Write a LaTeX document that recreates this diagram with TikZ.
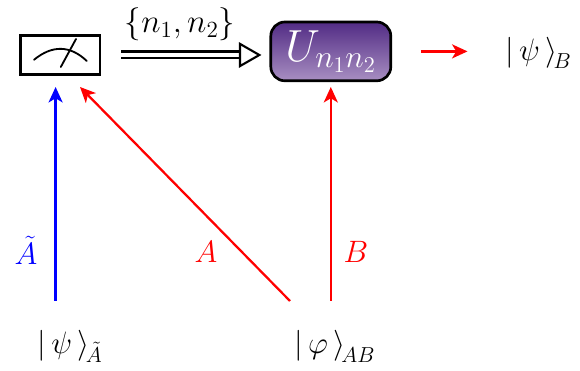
\documentclass[tikz,border=0pt]{standalone}
\usepackage{fix-cm}
\usetikzlibrary{arrows.meta}
\definecolor{ucoltop}{rgb}{0.32,0.17,0.52}
\definecolor{ucolbot}{rgb}{0.66,0.56,0.76}
\tikzset{
  meter box/.style={draw=black, line width=1.9pt, minimum width=1.98cm, minimum height=0.98cm, inner sep=0},
  gate box/.style={draw=black, line width=1.9pt, rounded corners=10pt, minimum width=3cm, minimum height=1.47cm,
                   inner sep=0, top color=ucoltop, bottom color=ucolbot, text=white},
  ket label/.style={font=\fontsize{22}{26}\selectfont, inner sep=0},
  wire label/.style={font=\fontsize{22}{26}\selectfont, inner sep=0},
  wire arrow/.style={-{Stealth[length=11pt,width=10pt,inset=3pt]}, line width=1.6pt},
  classical arrow/.style={-{Triangle[open,length=16pt,width=18pt,fill=white,line width=1.5pt]},
                          double, double distance=3.4pt, line width=1.5pt},
}

\begin{document}
\begin{tikzpicture}
    \useasboundingbox (0,0) rectangle (14.5,9.275);

    % === Top row: meter, classical arrow, gate, output ===
    \node[meter box] (meter) at (1.51, 7.9) {};
    \node[gate box, font=\fontsize{32}{36}\selectfont] (gate) at (8.27, 7.99) {$U_{n_1n_2}$};
    \node[ket label] (psiB) at (13.46, 7.95) {$\left|\,\psi\,\right\rangle_{\!B}$};
    \node[wire label, font=\fontsize{23.5}{26}\selectfont] (nset) at (4.5, 8.67) {$\{n_1,n_2\}$};

    % dial and needle
    \draw[line width=1.3pt, line cap=round] (0.85,7.78) .. controls (1.3,8.15) and (1.75,8.15) .. (2.17,7.75);
    \draw[line width=1.3pt, line cap=round] (1.52,7.6) -- (1.9,8.3);

    \draw[classical arrow, shorten >=0.2cm] ([xshift=0.5cm]meter.east) -- (gate.west |- meter.east);

    % === Bottom row: input states ===
    \node[ket label] (psiA) at (1.75, 0.62) {$\left|\,\psi\,\right\rangle_{\!\tilde A}$};
    \node[ket label] (phiAB) at (8.37, 0.62) {$\left|\,\varphi\,\right\rangle_{\!AB}$};

    % arrow ends
    \coordinate (tipT) at (1.39, 7.1);
    \coordinate (tailT) at (1.39, 1.75);
    \coordinate (tipA) at (2.0, 7.1);
    \coordinate (tailA) at (7.25, 1.75);
    \coordinate (tipB) at (8.27, 7.1);
    \coordinate (tailB) at (8.27, 1.75);

    \draw[wire arrow, blue] (tailT) -- (tipT);
    \draw[wire arrow, red] (tailA) -- (tipA);
    \draw[wire arrow, red] (tailB) -- (tipB);
    \draw[wire arrow, red, shorten <=0.72cm, shorten >=0.94cm] (gate.east) -- (gate.east -| psiB.west);

    % === Wire labels ===
    \node[wire label, text=blue] (labT) at (0.65, 3.02) {$\tilde A$};
    \node[wire label, text=red] (labA) at (5.15, 2.97) {$A$};
    \node[wire label, text=red] (labB) at (8.9, 2.97) {$B$};
\end{tikzpicture}
\end{document}
